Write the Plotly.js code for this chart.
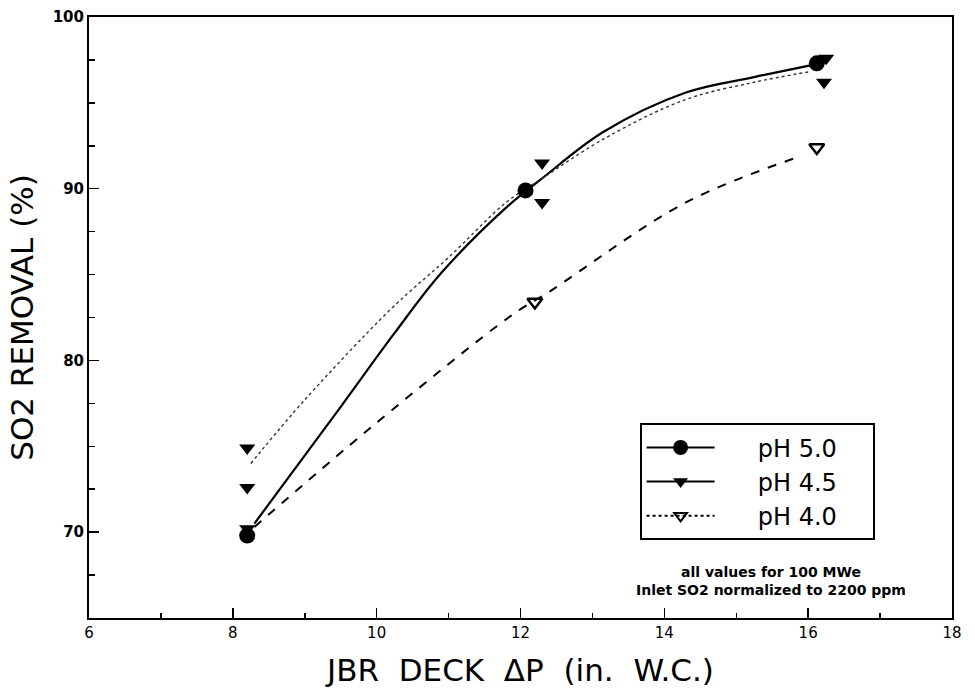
<!DOCTYPE html>
<html>
<head>
<meta charset="utf-8">
<script src="https://cdn.plot.ly/plotly-3.0.1.min.js"></script>
<style>html,body{margin:0;padding:0;background:#fff;}#chart{width:975px;height:700px;}</style>
</head>
<body>
<div id="chart"></div>
<script>
// Measured points
const ph50X = [8.2, 12.07, 16.12];
const ph50Y = [69.8, 89.9, 97.3];
const ph45X = [8.2, 8.2, 8.2, 12.3, 12.3, 16.25, 16.22];
const ph45Y = [74.9, 72.6, 70.2, 91.5, 89.2, 97.6, 96.2];
const ph40X = [12.2, 16.12];
const ph40Y = [83.4, 92.4];

// Fitted curves
const fit50X = [8.3, 9.5, 10.25, 10.9, 11.8, 12.3, 13.15, 14.3, 15.25, 16.05];
const fit50Y = [70.5, 77.3, 81.6, 85.1, 88.9, 90.6, 93.3, 95.6, 96.5, 97.2];
const fit45X = [8.25, 9.0, 10.2, 11.0, 11.8, 12.3, 13.2, 14.3, 15.25, 16.0];
const fit45Y = [74.0, 77.7, 83.0, 86.0, 89.2, 90.6, 93.0, 95.2, 96.2, 96.8];
const fit40X = [8.3, 9.95, 11.9, 12.4, 14.3, 15.9];
const fit40Y = [70.3, 76.2, 82.7, 84.0, 89.2, 91.9];

// Legend labels and note
const legendNames = ["pH 5.0", "pH 4.5", "pH 4.0"];
const noteLines = ["all values for 100 MWe", "Inlet SO2 normalized to 2200 ppm"];
const xTitle = "JBR DECK \u0394P (in. W.C.)";
const yTitle = "SO2 REMOVAL (%)";

const NB = '\u00A0';
const pad = (s) => NB.repeat(5) + s + NB.repeat(4);
const widen = (s) => s.split(' ').join(' ' + NB);

const traces = [
  {x: fit50X, y: fit50Y, mode: 'lines', line: {color: '#000', width: 2.2, shape: 'spline'}, showlegend: false, hoverinfo: 'skip'},
  {x: fit45X, y: fit45Y, mode: 'lines', line: {color: '#333', width: 1.4, dash: 'dot', shape: 'spline'}, showlegend: false, hoverinfo: 'skip'},
  {x: fit40X, y: fit40Y, mode: 'lines', line: {color: '#000', width: 2, dash: 'dash', shape: 'spline'}, showlegend: false, hoverinfo: 'skip'},
  {x: ph40X, y: ph40Y, mode: 'markers', marker: {symbol: 'triangle-down-open', size: 13, color: '#000', line: {width: 2.5}}, showlegend: false},
  {x: ph45X, y: ph45Y, mode: 'markers', marker: {symbol: 'triangle-down', size: 14, color: '#000'}, showlegend: false},
  {x: ph50X, y: ph50Y, mode: 'markers', marker: {symbol: 'circle', size: 16, color: '#000'}, showlegend: false},
  {x: [null], y: [null], name: pad(legendNames[0]), mode: 'lines+markers', line: {color: '#000', width: 2}, marker: {symbol: 'circle', size: 15, color: '#000'}},
  {x: [null], y: [null], name: pad(legendNames[1]), mode: 'lines+markers', line: {color: '#000', width: 2}, marker: {symbol: 'triangle-down', size: 13, color: '#000'}},
  {x: [null], y: [null], name: pad(legendNames[2]), mode: 'lines+markers', line: {color: '#000', width: 2, dash: 'dot'}, marker: {symbol: 'triangle-down-open', size: 11, color: '#000', line: {width: 2}}}
];

const layout = {
  width: 975, height: 700,
  margin: {l: 89, r: 23, t: 17, b: 82},
  paper_bgcolor: '#fff', plot_bgcolor: '#fff',
  showlegend: true,
  legend: {
    x: 0.638, y: 0.324, xanchor: 'left', yanchor: 'top',
    bordercolor: '#000', borderwidth: 2, bgcolor: '#fff',
    font: {family: 'DejaVu Sans, sans-serif', size: 24, color: '#000'},
    itemwidth: 68, tracegroupgap: 0
  },
  xaxis: {
    range: [6, 18], dtick: 2, tick0: 6,
    ticks: 'inside', ticklen: 10, tickwidth: 1.5, tickcolor: '#000',
    minor: {dtick: 1, ticks: 'inside', ticklen: 5, tickcolor: '#000', tickwidth: 1.5},
    showgrid: false, zeroline: false,
    showline: true, linecolor: '#000', linewidth: 2, mirror: true,
    tickfont: {family: 'DejaVu Sans, sans-serif', size: 15, color: '#000'},
    title: {text: widen(xTitle), font: {family: 'DejaVu Sans, sans-serif', size: 31, color: '#000'}, standoff: 18}
  },
  yaxis: {
    range: [65, 100], tickvals: [70, 80, 90, 100],
    ticks: 'inside', ticklen: 10, tickwidth: 1.5, tickcolor: '#000',
    minor: {dtick: 2.5, tick0: 65, ticks: 'inside', ticklen: 6, tickcolor: '#000', tickwidth: 1.5},
    showgrid: false, zeroline: false,
    showline: true, linecolor: '#000', linewidth: 2, mirror: true,
    tickfont: {family: 'DejaVu Sans, sans-serif', size: 15, color: '#000', weight: 'bold'},
    title: {text: yTitle, font: {family: 'DejaVu Sans, sans-serif', size: 31, color: '#000'}, standoff: 10}
  },
  annotations: [
    {xref: 'paper', yref: 'paper', x: 0.79, y: 0.062, xanchor: 'center', yanchor: 'middle', showarrow: false,
     text: noteLines[0] + '<br>' + noteLines[1], align: 'center',
     font: {family: 'DejaVu Sans, sans-serif', size: 14, color: '#000', weight: 'bold'}}
  ]
};

Plotly.newPlot('chart', traces, layout, {displayModeBar: false, staticPlot: true});
</script>
</body>
</html>
